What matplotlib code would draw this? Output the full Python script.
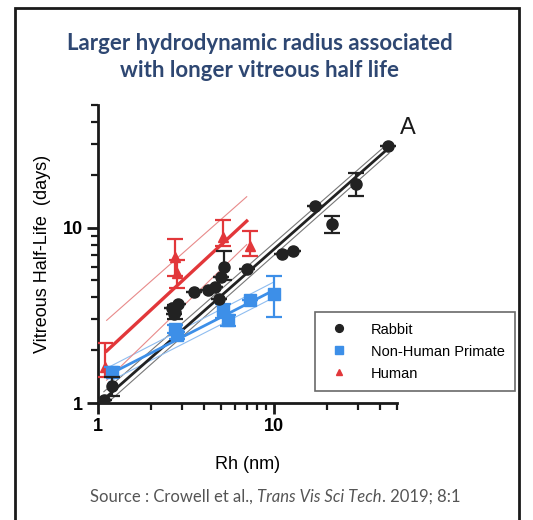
import matplotlib
matplotlib.use('Agg')
import matplotlib.pyplot as plt
from matplotlib.patches import Rectangle
from matplotlib.ticker import LogLocator, NullFormatter, FixedFormatter, FixedLocator

C_INK = '#1a1a1a'
C_RABBIT = '#222222'
C_NHP = '#3d8fe8'
C_HUMAN = '#e2373a'
C_TITLE = '#2e4772'

# ── data (Rh in nm, half-life in days) ───────────────────────────────────
rabbit_x = [1.08, 1.2, 2.65, 2.75, 2.85, 2.7, 3.5, 4.2, 4.6, 4.9, 5.0, 5.2, 7.0,
            11.1, 12.8, 17.1, 21.3, 29.2, 44.4]
rabbit_y = [1.04, 1.25, 3.5, 3.3, 3.65, 3.2, 4.3, 4.4, 4.6, 3.9, 5.2, 6.0, 5.8,
            7.1, 7.4, 13.3, 10.5, 17.8, 29.2]
rabbit_err_lo = [0, 0.15, 0, 0.3, 0, 0, 0, 0, 0, 0, 0, 1.0, 0,
                 0, 0, 0, 1.15, 2.6, 0]
rabbit_err_hi = [0, 0.15, 0, 0.3, 0, 0, 0, 0, 0, 0, 0, 1.4, 0,
                 0, 0, 0, 1.2, 2.7, 0]

nhp_x = [1.2, 2.75, 2.8, 5.1, 5.5, 7.3, 10.0]
nhp_y = [1.5, 2.65, 2.43, 3.37, 2.96, 3.85, 4.2]
nhp_err_lo = [0.1, 0.15, 0.1, 0.3, 0.2, 0, 1.1]
nhp_err_hi = [0.1, 0.15, 0.1, 0.3, 0.2, 0, 1.1]

human_x = [1.1, 2.75, 2.8, 5.1, 7.3]
human_y = [1.6, 6.8, 5.5, 8.8, 7.9]
human_err_lo = [0.2, 1.5, 1.0, 0.9, 1.0]
human_err_hi = [0.6, 1.8, 1.0, 2.2, 1.7]

# regression lines and 95% bands (end points)
rabbit_fit_x = [1.08, 45]
rabbit_fit_y = [1.05, 28.5]
rabbit_band_hi = [1.16, 30.5]
rabbit_band_lo = [0.96, 26.5]

nhp_fit_x = [1.15, 10.0]
nhp_fit_y = [1.45, 4.4]
nhp_band_hi = [1.6, 4.9]
nhp_band_lo = [1.32, 4.0]

human_fit_x = [1.12, 7.0]
human_fit_y = [1.98, 10.9]
human_band_hi = [2.96, 15.0]
human_band_lo = [1.35, 8.0]

fig = plt.figure(figsize=(5.33, 5.2), dpi=100)
fig.patch.set_facecolor('white')

# outer frame
fig.patches.append(Rectangle((15 / 533, -0.01), 504 / 533, 1 - 8 / 520 + 0.01,
                             transform=fig.transFigure, fill=False,
                             edgecolor=C_INK, lw=2))

fig.text(0.487, 1 - 57 / 520, 'Larger hydrodynamic radius associated\nwith longer vitreous half life',
         ha='center', va='center', fontsize=16, fontweight='bold', color=C_TITLE,
         family='Lato', linespacing=1.3)

ax = fig.add_axes([98 / 533, 1 - 403 / 520, 299 / 533, 298 / 520])
ax.set_xscale('log')
ax.set_yscale('log')
ax.set_xlim(1, 50)
ax.set_ylim(1, 50)

# bands
for fx, hi, lo, c in [(rabbit_fit_x, rabbit_band_hi, rabbit_band_lo, '#777777'),
                      (nhp_fit_x, nhp_band_hi, nhp_band_lo, '#8fbdf0'),
                      (human_fit_x, human_band_hi, human_band_lo, '#e88a8a')]:
    ax.plot(fx, hi, color=c, lw=0.8, zorder=2)
    ax.plot(fx, lo, color=c, lw=0.8, zorder=2)

ax.plot(rabbit_fit_x, rabbit_fit_y, color=C_RABBIT, lw=2, zorder=3)
ax.plot(nhp_fit_x, nhp_fit_y, color=C_NHP, lw=2, zorder=3)
ax.plot(human_fit_x, human_fit_y, color=C_HUMAN, lw=2.4, zorder=3)

ax.errorbar(human_x, human_y, yerr=[human_err_lo, human_err_hi], fmt='^',
            color=C_HUMAN, ms=7, elinewidth=1.6, capsize=6, capthick=1.6,
            zorder=4, label='Human')
ax.errorbar(nhp_x, nhp_y, yerr=[nhp_err_lo, nhp_err_hi], fmt='s',
            color=C_NHP, ms=8, elinewidth=1.6, capsize=6, capthick=1.6,
            zorder=5, label='Non-Human Primate')
ax.errorbar(rabbit_x, rabbit_y, yerr=[rabbit_err_lo, rabbit_err_hi], fmt='o',
            color=C_RABBIT, ms=8, elinewidth=1.6, capsize=6, capthick=1.6,
            zorder=6, label='Rabbit')

for s in ['top', 'right']:
    ax.spines[s].set_visible(False)
for s in ['left', 'bottom']:
    ax.spines[s].set_linewidth(2)
    ax.spines[s].set_color(C_INK)

ax.xaxis.set_major_locator(FixedLocator([1, 10]))
ax.yaxis.set_major_locator(FixedLocator([1, 10]))
ax.xaxis.set_minor_locator(LogLocator(base=10, subs=range(2, 10)))
ax.yaxis.set_minor_locator(LogLocator(base=10, subs=range(2, 10)))
ax.xaxis.set_minor_formatter(NullFormatter())
ax.yaxis.set_minor_formatter(NullFormatter())
ax.xaxis.set_major_formatter(FixedFormatter(['1', '10']))
ax.yaxis.set_major_formatter(FixedFormatter(['1', '10']))
ax.tick_params(which='major', length=8, width=2, color=C_INK, labelsize=13, pad=3)
ax.tick_params(which='minor', length=5, width=1.6, color=C_INK)
for lab in ax.get_xticklabels() + ax.get_yticklabels():
    lab.set_fontweight('bold')
    lab.set_family('Liberation Sans')

ax.set_xlabel('Rh (nm)', fontsize=13, family='Liberation Sans', labelpad=15)
ax.set_ylabel('Vitreous Half-Life  (days)', fontsize=13, family='Liberation Sans', labelpad=8)

ax.text(408 / 533, 1 - 128 / 520, 'A', transform=fig.transFigure, fontsize=17,
        family='Liberation Sans', ha='center', va='center', color=C_INK)

h, l = ax.get_legend_handles_labels()
order = [2, 1, 0]
leg = ax.legend([h[i][0] for i in order], [l[i] for i in order],
                loc='upper left', bbox_to_anchor=(308 / 533, 1 - 305 / 520),
                bbox_transform=fig.transFigure, fontsize=10.5, frameon=True,
                fancybox=False, edgecolor='#444444', borderpad=0.7,
                handletextpad=1.3, handlelength=1.8, labelspacing=0.55,
                markerscale=0.7)
leg.get_frame().set_linewidth(1.2)
for t in leg.get_texts():
    t.set_family('Liberation Sans')

# source line with italic journal name
fig.canvas.draw()
r = fig.canvas.get_renderer()
parts = [('Source : Crowell et al., ', 'normal'), ('Trans Vis Sci Tech', 'italic'),
         ('. 2019; 8:1', 'normal')]
texts = []
for s, st in parts:
    texts.append(fig.text(0, 1 - 497 / 520, s, fontsize=12, style=st, family='Lato',
                          color='#555555', va='center', ha='left'))
widths = [t.get_window_extent(r).width for t in texts]
x = 275 - sum(widths) / 2
for t, w in zip(texts, widths):
    t.set_x(x / 533)
    x += w

fig.savefig('out.png', dpi=100)
